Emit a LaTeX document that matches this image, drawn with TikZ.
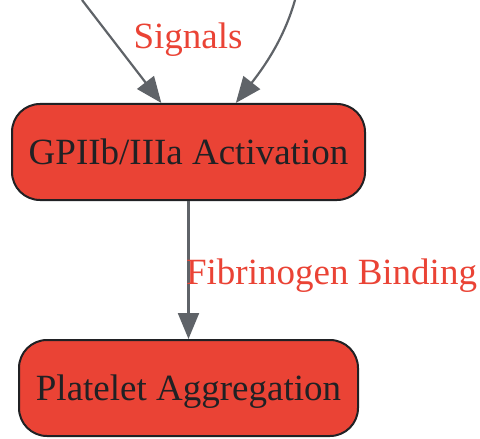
\documentclass[tikz,border=0pt]{standalone}
\usepackage{fontspec}
\setmainfont{Liberation Serif}
\usetikzlibrary{arrows.meta,positioning}
\definecolor{gred}{HTML}{EA4335}
\definecolor{ggray}{HTML}{5F6368}
\definecolor{gdark}{HTML}{202124}

\begin{document}
\begin{tikzpicture}[x=0.5pt,y=-0.5pt,node distance=118pt,on grid,>={Triangle[length=13pt,width=10.5pt]},
			every node/.style={font=\fontsize{18.5}{22}\selectfont},
			stepbox/.style={draw=gdark,line width=1pt,fill=gred,text=gdark,rounded corners=14pt,minimum height=48pt,text depth=0pt},
			flow/.style={->,draw=ggray,line width=1.1pt},
			lbl/.style={text=gred}]
			\useasboundingbox (0,0) rectangle (480,438);
			\node[stepbox,minimum width=176.5pt] (gp) at (188.5,152) {GPIIb/IIIa Activation};
			\node[stepbox,minimum width=169.5pt] (agg) [below=of gp] {Platelet Aggregation};
			\coordinate (inL) at (82,0);
			\coordinate (inR) at (295,0);

			\draw[flow] (inL) -- (gp.119);
			\draw[flow] (inR) .. controls (285,35) and (268,62) .. (gp.46);
			\node[lbl] (sig) at (188,40) {Signals};
			\draw[flow] (gp) -- node[lbl,anchor=west,inner xsep=0pt,xshift=-1.75pt,yshift=-3pt] {Fibrinogen Binding} (agg);

\end{tikzpicture}
\end{document}
